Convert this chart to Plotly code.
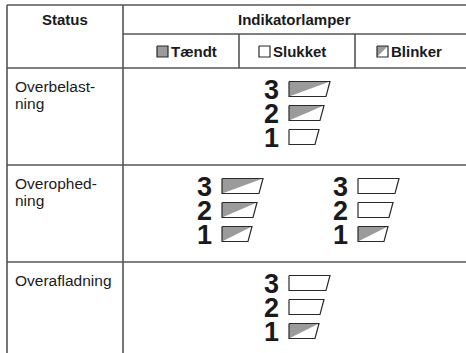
import plotly.graph_objects as go

# ---------------- data ----------------
header_status = "Status"
header_lamps = "Indikatorlamper"
legend_labels = ["Tændt", "Slukket", "Blinker"]
legend_states = ["on", "off", "blink"]
status_labels = [["Overbelast-", "ning"], ["Overophed-", "ning"], ["Overafladning"]]
lamp_numbers = ["3", "2", "1"]
row_overbelastning = [["blink", "blink", "off"]]
row_overophedning = [["blink", "blink", "blink"], ["off", "off", "blink"]]
row_overafladning = [["off", "off", "blink"]]
rows = [row_overbelastning, row_overophedning, row_overafladning]

# ---------------- layout constants ----------------
W, H = 466, 353
X_LEFT, X_DIV, X_RIGHT = 7, 123, 470
X_SUB = [239, 355]
Y_TOP, Y_HDR, Y_HDR2 = 5, 34, 68
ROW_H = 97
ROW_TOPS = [Y_HDR2 + i * ROW_H for i in range(len(rows))]
LINE_COL = "#555555"
GRAY = "#9b9b9b"
EDGE = "#2a2a2a"
FONT = "Liberation Sans, Arial, sans-serif"

LAMP_W = [41, 35, 30]
LAMP_SLANT = 4
LAMP_H = 15
LAMP_OFF = [21, 45, 69]
GROUP_LEFTS = {1: [289], 2: [222, 358]}

fig = go.Figure()
shapes = []
annotations = []


def line(x0, y0, x1, y1):
    shapes.append(dict(type="line", x0=x0, y0=y0, x1=x1, y1=y1, xref="x", yref="y",
                       line=dict(color=LINE_COL, width=1.6)))


# table grid
line(X_LEFT, Y_TOP, X_RIGHT, Y_TOP)
line(X_DIV, Y_HDR, X_RIGHT, Y_HDR)
for yt in ROW_TOPS:
    line(X_LEFT, yt, X_RIGHT, yt)
line(X_LEFT, Y_TOP, X_LEFT, H + 10)
line(X_DIV, Y_TOP, X_DIV, H + 10)
for xs in X_SUB:
    line(xs, Y_HDR, xs, Y_HDR2)


def poly(xs, ys, fill):
    fig.add_trace(go.Scatter(x=xs, y=ys, mode="lines", fill="toself", fillcolor=fill,
                             line=dict(color=fill, width=0), hoverinfo="skip",
                             showlegend=False))


def outline(xs, ys):
    fig.add_trace(go.Scatter(x=xs, y=ys, mode="lines", line=dict(color=EDGE, width=1.2),
                             hoverinfo="skip", showlegend=False))


def lamp(x0, yc, wt, slant, h, state):
    yt, yb = yc - h / 2, yc + h / 2
    xs = [x0, x0 + wt, x0 + wt - slant, x0, x0]
    ys = [yt, yt, yb, yb, yt]
    poly(xs, ys, "white" if state != "on" else GRAY)
    if state == "blink":
        poly([x0, x0 + wt, x0, x0], [yt, yt, yb, yt], GRAY)
    outline(xs, ys)


def text(x, y, s, size, bold=False, xanchor="center"):
    annotations.append(dict(x=x, y=y, xref="x", yref="y", text=("<b>%s</b>" % s) if bold else s,
                            showarrow=False, xanchor=xanchor, yanchor="middle",
                            font=dict(family=FONT, size=size, color="#1a1a1a")))


# headers
text((X_LEFT + X_DIV) / 2, 19, header_status, 15, bold=True)
text((X_DIV + W) / 2, 19, header_lamps, 15, bold=True)
leg_icon_x = [157, 259, 377]
for i, (lab, st) in enumerate(zip(legend_labels, legend_states)):
    x0 = leg_icon_x[i]
    lamp(x0, 51.5, 11, 0, 11, st)
    text(x0 + 12, 51.5, lab, 15, bold=True, xanchor="left")

# rows
for r, (labels, groups, yt) in enumerate(zip(status_labels, rows, ROW_TOPS)):
    for k, lab in enumerate(labels):
        text(13, yt + 18 + 17 * k, lab, 15.5, xanchor="left")
    lefts = GROUP_LEFTS[len(groups)]
    for g, states in enumerate(groups):
        x0 = lefts[g]
        for j, (num, st) in enumerate(zip(lamp_numbers, states)):
            yc = yt + LAMP_OFF[j]
            lamp(x0, yc, LAMP_W[j], LAMP_SLANT, LAMP_H, st)
            text(x0 - 8, yc + 1, num, 27, bold=True, xanchor="right")

fig.update_layout(
    width=W, height=H, margin=dict(l=0, r=0, t=0, b=0),
    paper_bgcolor="white", plot_bgcolor="white",
    xaxis=dict(range=[0, W], visible=False, fixedrange=True),
    yaxis=dict(range=[H, 0], visible=False, fixedrange=True),
    shapes=shapes, annotations=annotations, showlegend=False,
)
fig.write_html("out.html", config={"displayModeBar": False},
               post_script="document.body.style.margin='0';document.body.style.overflow='hidden';")
